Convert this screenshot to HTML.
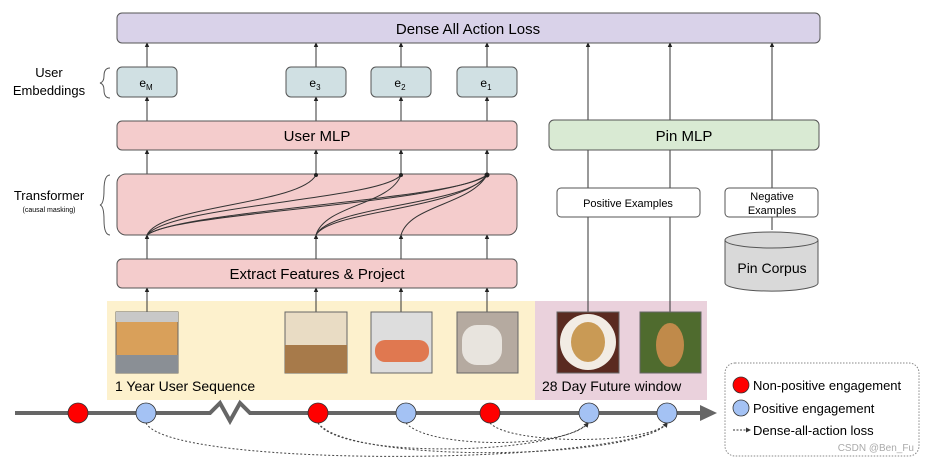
<!DOCTYPE html>
<html><head><meta charset="utf-8"><style>
body{margin:0;background:#fff;width:929px;height:462px;overflow:hidden}
svg{font-family:"Liberation Sans",sans-serif}
</style></head><body>
<svg width="929" height="462" viewBox="0 0 929 462" xmlns="http://www.w3.org/2000/svg">
<defs>
<marker id="a" markerWidth="6" markerHeight="6" refX="3" refY="3" orient="auto"><path d="M0,0.8 L5,3 L0,5.2z" fill="#222"/></marker>
<marker id="d" markerWidth="6" markerHeight="6" refX="4" refY="3" orient="auto"><path d="M0,0.5 L5,3 L0,5.5z" fill="#333"/></marker>
</defs>
<!-- backgrounds -->
<rect x="107" y="301" width="428" height="99" fill="#fdf1cd"/>
<rect x="535" y="301" width="172" height="99" fill="#ead1dc"/>
<!-- vertical lines -->
<g stroke="#333" stroke-width="1" fill="none" marker-end="url(#a)">
<line x1="147" y1="312" x2="147" y2="289"/><line x1="316" y1="312" x2="316" y2="289"/><line x1="401" y1="312" x2="401" y2="289"/><line x1="487" y1="312" x2="487" y2="289"/>
<line x1="147" y1="259" x2="147" y2="236"/><line x1="316" y1="259" x2="316" y2="236"/><line x1="401" y1="259" x2="401" y2="236"/><line x1="487" y1="259" x2="487" y2="236"/>
<line x1="147" y1="235" x2="147" y2="175"/><line x1="316" y1="235" x2="316" y2="175"/><line x1="401" y1="235" x2="401" y2="175"/><line x1="487" y1="235" x2="487" y2="175"/>
<line x1="147" y1="174" x2="147" y2="151"/><line x1="316" y1="174" x2="316" y2="151"/><line x1="401" y1="174" x2="401" y2="151"/><line x1="487" y1="174" x2="487" y2="151"/>
<line x1="147" y1="121" x2="147" y2="98"/><line x1="316" y1="121" x2="316" y2="98"/><line x1="401" y1="121" x2="401" y2="98"/><line x1="487" y1="121" x2="487" y2="98"/>
<line x1="147" y1="67" x2="147" y2="44"/><line x1="316" y1="67" x2="316" y2="44"/><line x1="401" y1="67" x2="401" y2="44"/><line x1="487" y1="67" x2="487" y2="44"/>
<line x1="588" y1="312" x2="588" y2="44"/><line x1="670" y1="312" x2="670" y2="44"/><line x1="772" y1="230" x2="772" y2="44"/>
</g>
<!-- boxes -->
<rect x="117" y="13" width="703" height="30" rx="5" fill="#d9d2e9" stroke="#555"/>
<text x="468" y="34" font-size="15" text-anchor="middle">Dense All Action Loss</text>
<g fill="#d0e0e3" stroke="#555">
<rect x="117" y="67" width="60" height="30" rx="5"/><rect x="286" y="67" width="60" height="30" rx="5"/><rect x="371" y="67" width="60" height="30" rx="5"/><rect x="457" y="67" width="60" height="30" rx="5"/>
</g>
<g font-size="12" text-anchor="middle">
<text x="146" y="87">e<tspan font-size="8" dy="3">M</tspan></text>
<text x="315" y="87">e<tspan font-size="8" dy="3">3</tspan></text>
<text x="400" y="87">e<tspan font-size="8" dy="3">2</tspan></text>
<text x="486" y="87">e<tspan font-size="8" dy="3">1</tspan></text>
</g>
<rect x="117" y="121" width="400" height="29" rx="5" fill="#f4cccc" stroke="#555"/>
<text x="317" y="141" font-size="15" text-anchor="middle">User MLP</text>
<rect x="117" y="174" width="400" height="61" rx="9" fill="#f4cccc" stroke="#555"/>
<rect x="117" y="259" width="400" height="29" rx="5" fill="#f4cccc" stroke="#555"/>
<text x="317" y="279" font-size="15" text-anchor="middle">Extract Features &amp; Project</text>
<!-- transformer curves -->
<g stroke="#333" fill="none" stroke-width="1">
<path d="M147,235 C160,205 300,205 316,175"/>
<path d="M147,235 C170,205 380,200 401,175"/>
<path d="M147,235 C180,210 460,200 487,175"/>
<path d="M147,235 C175,212 440,205 487,175"/>
<path d="M316,235 C325,205 390,205 401,175"/>
<path d="M316,235 C330,205 470,205 487,175"/>
<path d="M316,235 C330,210 460,210 487,175"/>
<path d="M401,235 C410,205 470,205 487,175"/>
</g>
<g fill="#222"><circle cx="316" cy="175" r="2"/><circle cx="401" cy="175" r="2"/><circle cx="487" cy="175" r="2.5"/></g>
<rect x="549" y="120" width="270" height="30" rx="5" fill="#d9ead3" stroke="#555"/>
<text x="684" y="141" font-size="15" text-anchor="middle">Pin MLP</text>
<rect x="557" y="188" width="143" height="29" rx="4" fill="#fff" stroke="#555"/>
<text x="628" y="207" font-size="11" text-anchor="middle">Positive Examples</text>
<rect x="725" y="188" width="93" height="29" rx="4" fill="#fff" stroke="#555"/>
<text x="772" y="200" font-size="11" text-anchor="middle">Negative</text>
<text x="772" y="214" font-size="11" text-anchor="middle">Examples</text>
<path d="M725,240 L725,283 A46,8 0 0 0 818,283 L818,240" fill="#d9d9d9" stroke="#555"/>
<ellipse cx="771.5" cy="240" rx="46.5" ry="8" fill="#d9d9d9" stroke="#555"/>
<text x="772" y="273" font-size="14" text-anchor="middle">Pin Corpus</text>
<!-- left labels -->
<text x="49" y="77" font-size="13" text-anchor="middle">User</text>
<text x="49" y="95" font-size="13" text-anchor="middle">Embeddings</text>
<path d="M110,68 Q104,68 104,76 Q104,82 100,83 Q104,84 104,90 Q104,98 110,98" stroke="#555" fill="none"/>
<text x="49" y="200" font-size="13" text-anchor="middle">Transformer</text>
<text x="49" y="212" font-size="7" text-anchor="middle">(causal masking)</text>
<path d="M110,175 Q104,175 104,190 Q104,204 100,205 Q104,206 104,220 Q104,235 110,235" stroke="#555" fill="none"/>
<!-- images -->
<rect x="116" y="312" width="62" height="61" fill="#d9a05a" stroke="#666"/><rect x="116" y="355" width="62" height="18" fill="#8a8f95"/><rect x="116" y="312" width="62" height="10" fill="#c8c8c8"/>
<rect x="285" y="312" width="62" height="61" fill="#e9dcc4" stroke="#666"/><rect x="285" y="345" width="62" height="28" fill="#a77a4a"/>
<rect x="371" y="312" width="61" height="61" fill="#ddd" stroke="#666"/><rect x="375" y="340" width="54" height="22" rx="10" fill="#e07850"/>
<rect x="457" y="312" width="61" height="61" fill="#b5aaa0" stroke="#666"/><rect x="462" y="325" width="40" height="40" rx="15" fill="#e8e4de"/>
<rect x="557" y="312" width="62" height="61" fill="#5a2a20" stroke="#666"/><ellipse cx="588" cy="342" rx="28" ry="28" fill="#f2ece4"/><ellipse cx="588" cy="342" rx="17" ry="20" fill="#c99a55"/>
<rect x="640" y="312" width="61" height="61" fill="#4f6b2e" stroke="#666"/><ellipse cx="670" cy="345" rx="14" ry="22" fill="#c08a4a"/>
<text x="115" y="391" font-size="14">1 Year User Sequence</text>
<text x="542" y="391" font-size="14">28 Day Future window</text>
<!-- timeline -->
<path d="M15,413 L210,413 L220,403 L230,421 L240,403 L250,413 L702,413" stroke="#666" stroke-width="4" fill="none"/>
<path d="M700,405 L717,413 L700,421z" fill="#666"/>
<!-- dashed -->
<g stroke="#444" stroke-dasharray="2,2" fill="none" stroke-width="1" marker-end="url(#d)">
<path d="M146,423 C170,470 640,465 667,423"/>
<path d="M318,423 C340,460 560,455 588,423"/>
<path d="M318,423 C350,465 640,460 667,423"/>
<path d="M406,423 C430,450 570,448 588,423"/>
<path d="M490,423 C510,445 650,445 667,423"/>
</g>
<g stroke="#333" stroke-width="0.8">
<circle cx="78" cy="413" r="10" fill="#f00"/><circle cx="146" cy="413" r="10" fill="#a4c2f4"/>
<circle cx="318" cy="413" r="10" fill="#f00"/><circle cx="406" cy="413" r="10" fill="#a4c2f4"/>
<circle cx="490" cy="413" r="10" fill="#f00"/><circle cx="589" cy="413" r="10" fill="#a4c2f4"/>
<circle cx="667" cy="413" r="10" fill="#a4c2f4"/>
</g>
<!-- legend -->
<rect x="725" y="363" width="194" height="93" rx="10" fill="#fff" stroke="#888" stroke-dasharray="1.5,1.5"/>
<circle cx="741" cy="385" r="8" fill="#f00" stroke="#333" stroke-width="0.8"/>
<circle cx="741" cy="408" r="8" fill="#a4c2f4" stroke="#333" stroke-width="0.8"/>
<text x="753" y="390" font-size="13">Non-positive engagement</text>
<text x="753" y="413" font-size="13">Positive engagement</text>
<line x1="733" y1="430" x2="750" y2="430" stroke="#333" stroke-dasharray="2,1.5" marker-end="url(#d)"/>
<text x="753" y="435" font-size="13">Dense-all-action loss</text>
<text x="914" y="451" font-size="10" fill="#aaa" text-anchor="end">CSDN @Ben_Fu</text>
</svg>
</body></html>
